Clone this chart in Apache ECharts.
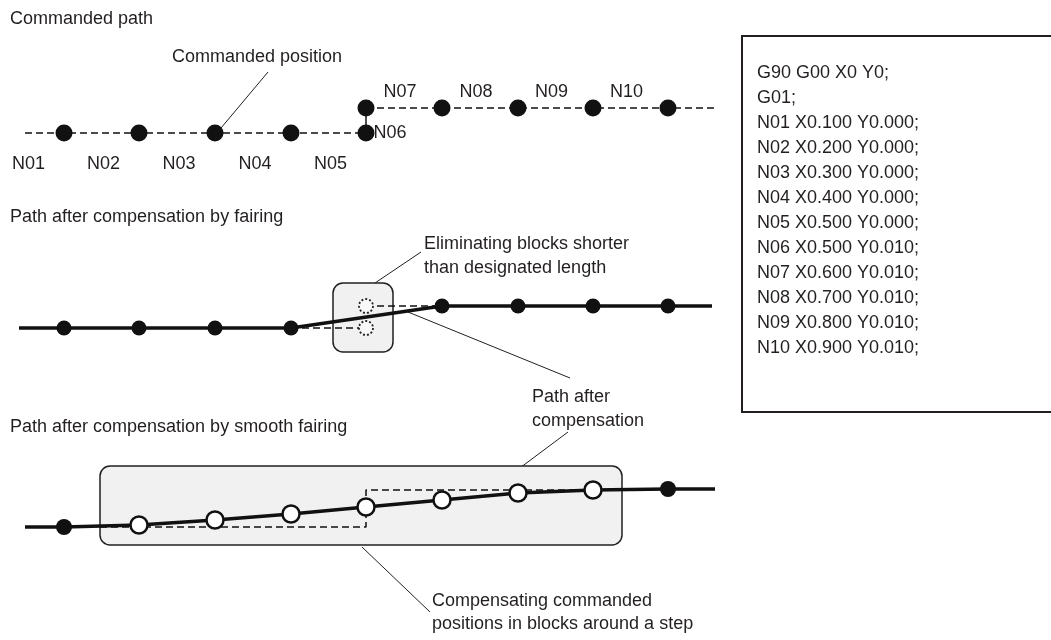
<!DOCTYPE html>
<html>
<head>
    <meta charset="utf-8">
    <script src="https://cdn.jsdelivr.net/npm/echarts@6/dist/echarts.min.js"></script>
    <style>
        html, body { margin: 0; padding: 0; background: #fff; }
        #chart { width: 1051px; height: 640px; }
    </style>
</head>
<body>
    <div id="chart"></div>
    <script>
        // block end points along X (diagram units = px)
        let blockNames = ['N01', 'N02', 'N03', 'N04', 'N05', 'N06', 'N07', 'N08', 'N09', 'N10'];
        let blockX = [64, 139, 215, 291, 366, 366, 442, 518, 593, 668];
        let originX = -11;

        // panel 1: commanded path
        let cmdY = [133, 133, 133, 133, 133, 108, 108, 108, 108, 108];
        let cmdStart = [25, 133];
        let cmdEnd = [715, 108];

        // panel 2: fairing
        let fairLowY = 328, fairHighY = 306;
        let fairKeep = [true, true, true, true, false, false, true, true, true, true];
        let fairStart = [19, 328];
        let fairEnd = [712, 306];

        // panel 3: smooth fairing
        let smoothX = [64, 139, 215, 291, 366, 442, 518, 593, 668];
        let smoothY = [527, 525, 520, 514, 507, 500, 493, 490, 489];
        let smoothOpen = [false, true, true, true, true, true, true, true, false];
        let smoothStart = [25, 527];
        let smoothEnd = [715, 489];
        let smoothCmd = [[100, 527], [366, 527], [366, 490], [593, 490]];

        // shaded boxes [x1, y1, x2, y2]
        let boxes = [[333, 283, 393, 352], [100, 466, 622, 545]];

        let codeLines = [
            'G90 G00 X0 Y0;', 'G01;',
            'N01 X0.100 Y0.000;', 'N02 X0.200 Y0.000;', 'N03 X0.300 Y0.000;',
            'N04 X0.400 Y0.000;', 'N05 X0.500 Y0.000;', 'N06 X0.500 Y0.010;',
            'N07 X0.600 Y0.010;', 'N08 X0.700 Y0.010;', 'N09 X0.800 Y0.010;',
            'N10 X0.900 Y0.010;'
        ];

        let FONT = '"Liberation Sans", Arial, sans-serif';
        let FS = 18;
        let INK = '#231f20';

        // build series data
        let cmdLow = [cmdStart];
        let cmdHigh = [];
        let cmdDots = [];
        for (let i = 0; i < blockX.length; i++) {
            cmdDots.push([blockX[i], cmdY[i]]);
            if (cmdY[i] === cmdStart[1]) cmdLow.push([blockX[i], cmdY[i]]);
            else cmdHigh.push([blockX[i], cmdY[i]]);
        }
        cmdHigh.push(cmdEnd);

        let fairPath = [fairStart];
        let fairDots = [];
        let fairGone = [];
        for (let i = 0; i < blockX.length; i++) {
            let y = i < 5 ? fairLowY : fairHighY;
            if (fairKeep[i]) { fairPath.push([blockX[i], y]); fairDots.push([blockX[i], y]); }
            else fairGone.push([blockX[i], y]);
        }
        fairPath.push(fairEnd);
        let fairCmdA = [[blockX[3], fairLowY], [blockX[4], fairLowY]];
        let fairCmdB = [[blockX[5], fairHighY], [blockX[6], fairHighY]];

        let smoothPath = [smoothStart];
        let smoothFilled = [], smoothHollow = [];
        for (let i = 0; i < smoothX.length; i++) {
            smoothPath.push([smoothX[i], smoothY[i]]);
            (smoothOpen[i] ? smoothHollow : smoothFilled).push([smoothX[i], smoothY[i]]);
        }
        smoothPath.push(smoothEnd);

        // block name labels: lower ones under segment midpoints, upper ones above
        let nameLabels = [];
        for (let i = 0; i < blockNames.length; i++) {
            let prev = i === 0 ? originX : blockX[i - 1];
            if (i < 5) nameLabels.push({ name: blockNames[i], value: [(prev + blockX[i]) / 2 + 2, cmdY[i] + 31] });
            else if (i > 5) nameLabels.push({ name: blockNames[i], value: [(prev + blockX[i]) / 2 - 4, cmdY[i] - 16] });
        }

        function lineSeries(data, width, type, z) {
            return {
                type: 'line', data: data, showSymbol: false, silent: true, z: z || 3,
                lineStyle: { color: '#111', width: width, type: type || 'solid', dashOffset: 0 }
            };
        }
        function dotSeries(data, size, fill, border, bw, btype, z) {
            return {
                type: 'scatter', data: data, symbol: 'circle', symbolSize: size, silent: true, z: z || 5,
                itemStyle: { color: fill, borderColor: border, borderWidth: bw, borderType: btype || 'solid', opacity: 1 }
            };
        }
        let labelStyle = {
            show: true, formatter: '{b}', fontFamily: FONT, fontSize: FS, color: INK,
            textBorderWidth: 0, textShadowBlur: 0, opacity: 1
        };

        let chart = echarts.init(document.getElementById('chart'), null, { renderer: 'canvas' });
        let text = (x, y, s) => ({
            type: 'text', x: x, y: y, style: { text: s, font: FS + 'px ' + FONT, fill: INK, textVerticalAlign: 'middle' }
        });
        let leader = (x1, y1, x2, y2) => ({
            type: 'line', shape: { x1: x1, y1: y1, x2: x2, y2: y2 }, style: { stroke: INK, lineWidth: 1 }
        });

        let graphics = [
            text(10, 19, 'Commanded path'),
            text(172, 57, 'Commanded position'),
            leader(268, 72, 221, 128),
            text(10, 217, 'Path after compensation by fairing'),
            text(424, 244, 'Eliminating blocks shorter'),
            text(424, 268, 'than designated length'),
            leader(421, 252, 375, 283),
            leader(408, 312, 570, 378),
            text(532, 397, 'Path after'),
            text(532, 421, 'compensation'),
            text(10, 427, 'Path after compensation by smooth fairing'),
            leader(568, 432, 481, 497),
            leader(362, 547, 430, 612),
            text(432, 601, 'Compensating commanded'),
            text(432, 624, 'positions in blocks around a step'),
            {
                type: 'rect', shape: { x: 742, y: 36, width: 320, height: 376 },
                style: { fill: '#fff', stroke: INK, lineWidth: 2 }, z: -1
            }
        ];
        codeLines.forEach((s, i) => graphics.push(text(757, 73 + i * 25, s)));

        let option = {
            animation: false,
            grid: { left: 0, right: 0, top: 0, bottom: 0 },
            xAxis: { type: 'value', min: 0, max: 1051, show: false },
            yAxis: { type: 'value', min: 0, max: 640, inverse: true, show: false },
            graphic: graphics,
            series: [
                {
                    type: 'custom', silent: true, z: 1, data: boxes,
                    renderItem: function (params, api) {
                        let p1 = api.coord([api.value(0), api.value(1)]);
                        let p2 = api.coord([api.value(2), api.value(3)]);
                        return {
                            type: 'rect',
                            shape: { x: p1[0], y: p1[1], width: p2[0] - p1[0], height: p2[1] - p1[1], r: 10 },
                            style: { fill: '#f1f1f1', stroke: INK, lineWidth: 1.5 }
                        };
                    }
                },
                // panel 1
                lineSeries(cmdLow, 1.5, [7, 4]),
                lineSeries([[blockX[4], cmdY[4]], [blockX[5], cmdY[5]]], 1.5),
                lineSeries(cmdHigh, 1.5, [7, 4]),
                dotSeries(cmdDots, 17, '#111', '#111', 0),
                {
                    type: 'scatter', data: nameLabels, symbolSize: 1, silent: true,
                    itemStyle: { color: 'transparent' },
                    label: Object.assign({ position: 'inside' }, labelStyle)
                },
                {
                    type: 'scatter', data: [{ name: blockNames[5], value: [blockX[5], cmdY[4]] }], symbolSize: 1, silent: true,
                    itemStyle: { color: 'transparent' },
                    label: Object.assign({ position: 'right', distance: 7 }, labelStyle)
                },
                // panel 2
                lineSeries(fairCmdA, 1.5, [7, 4], 2),
                lineSeries(fairCmdB, 1.5, [7, 4], 2),
                lineSeries(fairPath, 3.5),
                dotSeries(fairDots, 15, '#111', '#111', 0),
                dotSeries(fairGone, 14, '#f8f8f8', '#222', 1.8, [2, 2], 4),
                // panel 3
                lineSeries(smoothCmd, 1.5, [7, 4], 2),
                lineSeries(smoothPath, 3.5),
                dotSeries(smoothFilled, 16, '#111', '#111', 0),
                dotSeries(smoothHollow, 17, '#fff', '#111', 2.5)
            ]
        };
        chart.setOption(option);
    </script>
</body>
</html>
